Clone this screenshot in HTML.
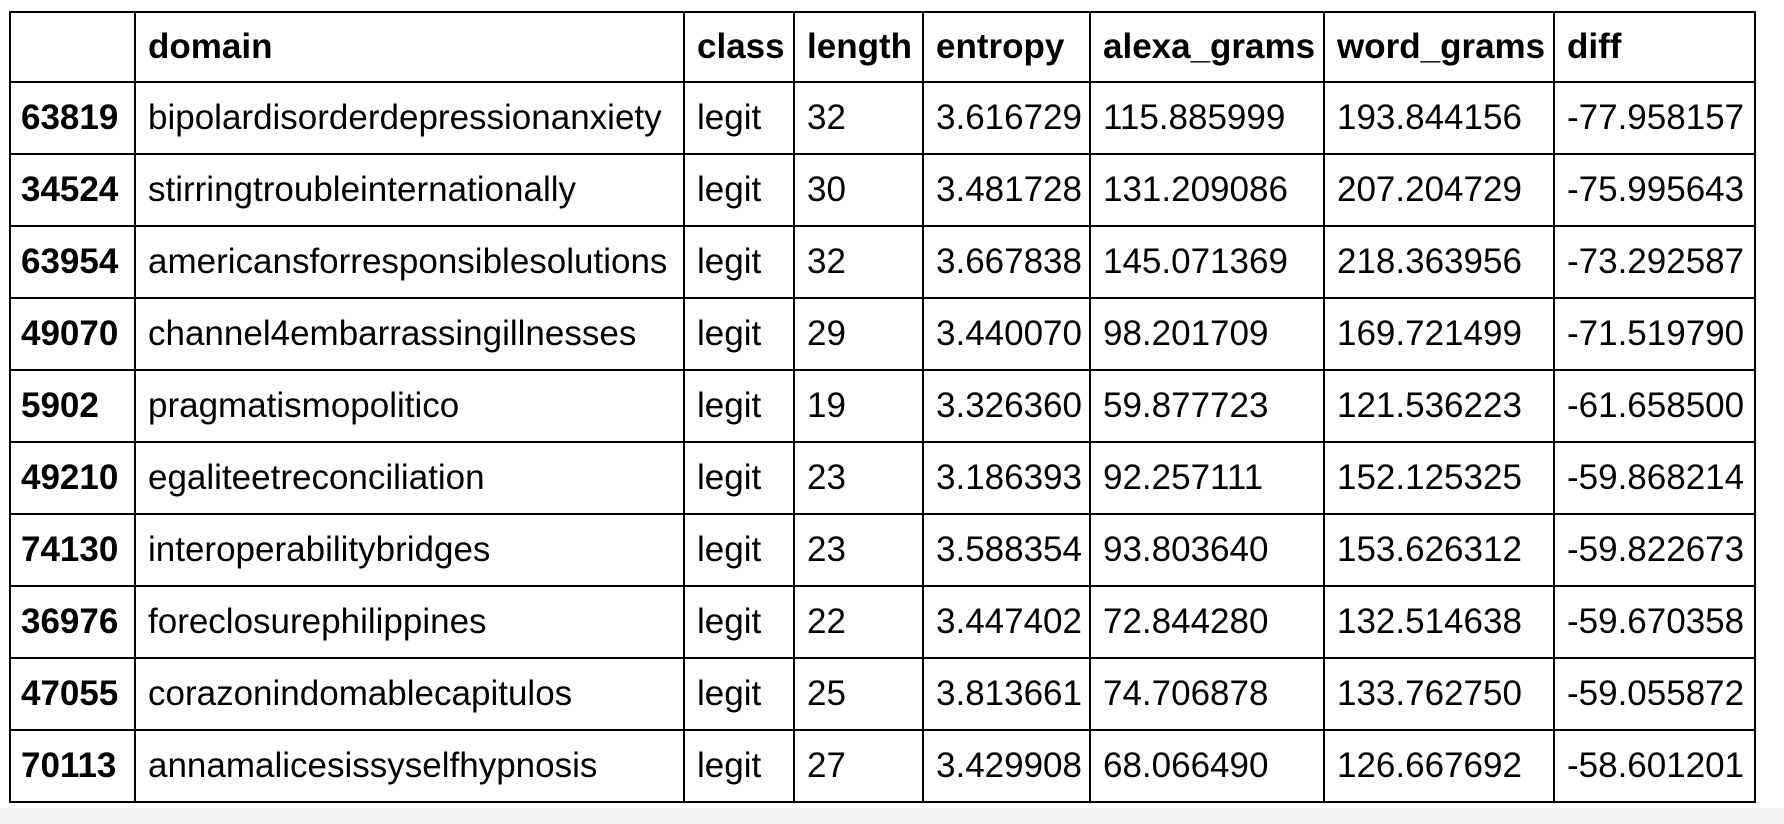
<!DOCTYPE html>
<html><head><meta charset="utf-8">
<style>
html,body{margin:0;padding:0;width:1784px;height:824px;background:#fff;overflow:hidden;}
#bottom-band{position:absolute;left:0;top:808px;width:1784px;height:16px;background:#f4f4f4;}
table{position:absolute;left:9px;top:11px;border-collapse:collapse;table-layout:fixed;
 font-family:"Liberation Sans",Arial,sans-serif;font-size:35px;color:#000;}
td,th{border:2px solid #000;padding:0 0 0 12px;text-align:left;white-space:nowrap;overflow:hidden;}
th{font-weight:bold;height:68px;}
td{height:70px;}
td.idx{font-weight:bold;padding-left:10px;}
</style></head>
<body>
<div id="bottom-band"></div>
<table>
<colgroup><col style="width:125px"><col style="width:549px"><col style="width:110px"><col style="width:129px"><col style="width:167px"><col style="width:234px"><col style="width:230px"><col style="width:201px"></colgroup>
<thead><tr>
<th></th>
<th>domain</th>
<th>class</th>
<th>length</th>
<th>entropy</th>
<th>alexa_grams</th>
<th>word_grams</th>
<th>diff</th>
</tr></thead>
<tbody>
<tr><td class="idx">63819</td><td>bipolardisorderdepressionanxiety</td><td>legit</td><td>32</td><td>3.616729</td><td>115.885999</td><td>193.844156</td><td>-77.958157</td></tr>
<tr><td class="idx">34524</td><td>stirringtroubleinternationally</td><td>legit</td><td>30</td><td>3.481728</td><td>131.209086</td><td>207.204729</td><td>-75.995643</td></tr>
<tr><td class="idx">63954</td><td>americansforresponsiblesolutions</td><td>legit</td><td>32</td><td>3.667838</td><td>145.071369</td><td>218.363956</td><td>-73.292587</td></tr>
<tr><td class="idx">49070</td><td>channel4embarrassingillnesses</td><td>legit</td><td>29</td><td>3.440070</td><td>98.201709</td><td>169.721499</td><td>-71.519790</td></tr>
<tr><td class="idx">5902</td><td>pragmatismopolitico</td><td>legit</td><td>19</td><td>3.326360</td><td>59.877723</td><td>121.536223</td><td>-61.658500</td></tr>
<tr><td class="idx">49210</td><td>egaliteetreconciliation</td><td>legit</td><td>23</td><td>3.186393</td><td>92.257111</td><td>152.125325</td><td>-59.868214</td></tr>
<tr><td class="idx">74130</td><td>interoperabilitybridges</td><td>legit</td><td>23</td><td>3.588354</td><td>93.803640</td><td>153.626312</td><td>-59.822673</td></tr>
<tr><td class="idx">36976</td><td>foreclosurephilippines</td><td>legit</td><td>22</td><td>3.447402</td><td>72.844280</td><td>132.514638</td><td>-59.670358</td></tr>
<tr><td class="idx">47055</td><td>corazonindomablecapitulos</td><td>legit</td><td>25</td><td>3.813661</td><td>74.706878</td><td>133.762750</td><td>-59.055872</td></tr>
<tr><td class="idx">70113</td><td>annamalicesissyselfhypnosis</td><td>legit</td><td>27</td><td>3.429908</td><td>68.066490</td><td>126.667692</td><td>-58.601201</td></tr>
</tbody>
</table>
</body></html>
